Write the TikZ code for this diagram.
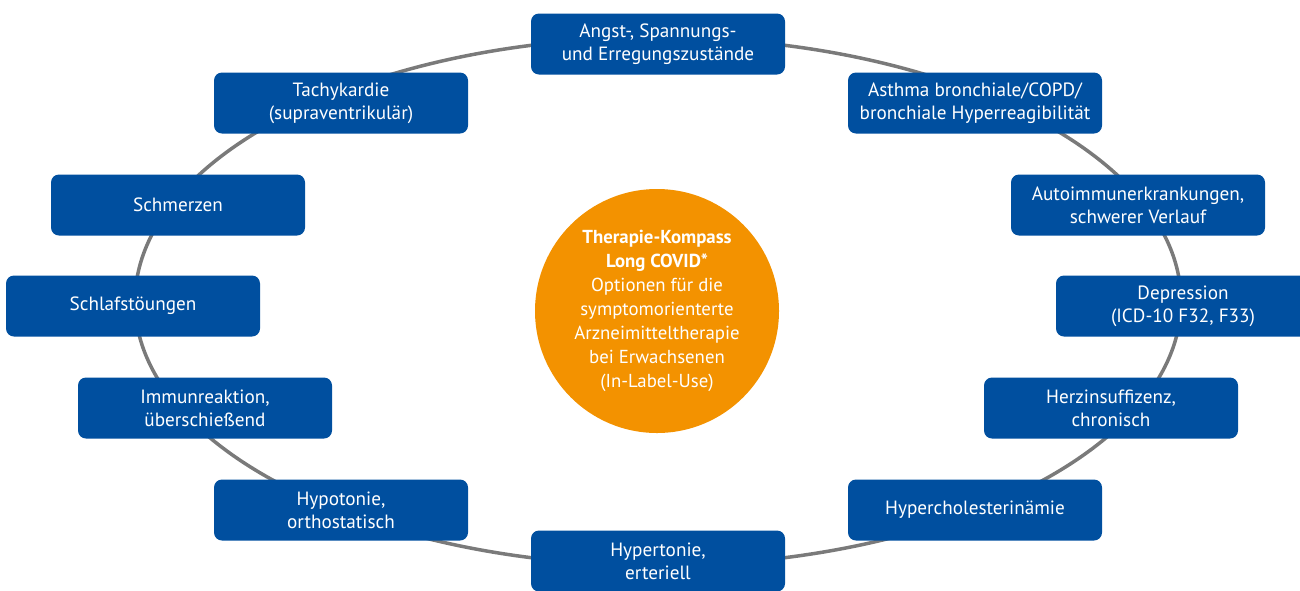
\documentclass[tikz,border=0pt]{standalone}
\usepackage{fontspec}
\setmainfont{PT Sans}
\usepackage{xcolor}
\definecolor{boxblue}{RGB}{0,79,159}
\definecolor{kompassorange}{RGB}{243,146,0}
\definecolor{ringgray}{RGB}{122,122,122}

\begin{document}
\begin{tikzpicture}[x=1pt, y=-1pt, inner sep=3pt]
		\tikzstyle{every node}=[align=center, font=\fontsize{19.2}{23}\selectfont]
		\tikzstyle{symptom}=[fill=boxblue, text=white, rounded corners=8pt, minimum width=254pt, minimum height=61pt]
			\useasboundingbox (0, 0) rectangle (1300, 590);

			% ring
			\draw[ringgray, line width=3.5pt] (658, 301.5) ellipse [x radius=523, y radius=264];

			\node[circle, fill=kompassorange, text=white, minimum size=244pt, inner sep=0pt, font=\fontsize{18.8}{24}\selectfont] (kompass) at (657, 311) {\textbf{Therapie-Kompass}\\\textbf{Long COVID*}\\Optionen für die\\symptomorienterte\\Arzneimitteltherapie\\bei Erwachsenen\\(In-Label-Use)};

			\node[symptom] (angst) at (658, 44) {Angst-, Spannungs-\\und Erregungszustände};
			\node[symptom] (tachy) at (341, 103) {Tachykardie\\(supraventrikulär)};
			\node[symptom] (asthma) at (975, 103) {Asthma bronchiale/COPD/\\bronchiale Hyperreagibilität};
			\node[symptom] (schmerz) at (178, 205) {Schmerzen};
			\node[symptom] (autoimmun) at (1138, 205) {Autoimmunerkrankungen,\\schwerer Verlauf};
			\node[symptom] (schlaf) at (133, 306) {Schlafstöungen};
			\node[symptom] (depression) at (1183, 306) {Depression\\(ICD-10 F32, F33)};
			\node[symptom] (immun) at (205, 408) {Immunreaktion,\\überschießend};
			\node[symptom] (herz) at (1111, 408) {Herzinsuffizenz,\\chronisch};
			\node[symptom] (hypotonie) at (341, 510) {Hypotonie,\\orthostatisch};
			\node[symptom] (cholesterin) at (975, 510) {Hypercholesterinämie};
			\node[symptom] (hypertonie) at (658, 561) {Hypertonie,\\erteriell};
		\end{tikzpicture}
\end{document}
